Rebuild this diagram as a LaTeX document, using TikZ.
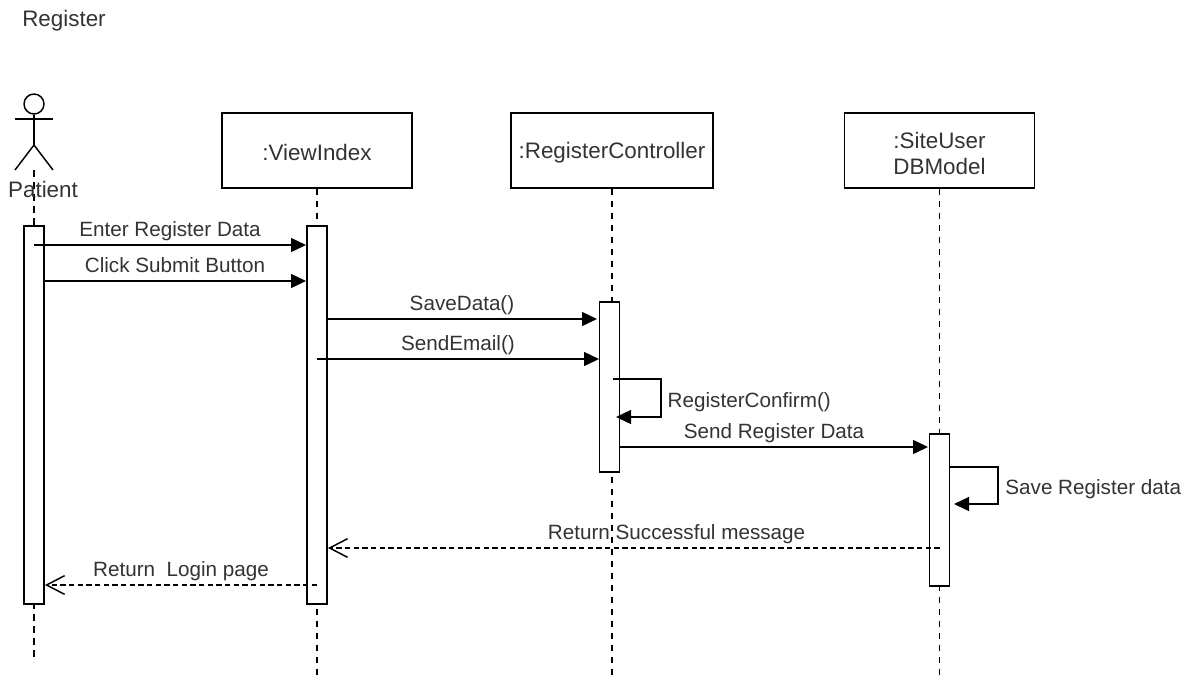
\documentclass[tikz,border=0pt]{standalone}
\usepackage{fontspec}
\setmainfont{Liberation Sans}
\usetikzlibrary{arrows.meta,positioning}

\begin{document}
\begin{tikzpicture}[x=0.75pt,y=-0.75pt,line width=1.1pt,>={Triangle[length=11.25pt,width=10.5pt]},text=black!80,font=\fontsize{15.5}{18}\selectfont]
  \tikzstyle{big}=[font=\fontsize{16.8}{19.5}\selectfont]
  \tikzstyle{object}=[big,draw=black,minimum width=142.5pt,minimum height=56pt,inner sep=0pt,align=center,text height=15.5pt]
  \tikzstyle{lifeline}=[dash pattern=on 5pt off 4pt]
  \tikzstyle{activation}=[draw=black,fill=white,minimum width=15pt,inner sep=0pt]
  \tikzstyle{msg}=[->]
  \tikzstyle{reply}=[-{Straight Barb[length=13.5pt,width=14pt]},dash pattern=on 4pt off 2.5pt]
  \tikzstyle{label}=[anchor=base,inner sep=0pt,yshift=6.5pt]
  \useasboundingbox (0,0) rectangle (1194,679);

  \node[big] (title) at (64,21) {Register};

  % actor
  \node[circle,draw=black,minimum size=15pt,inner sep=0pt] (head) at (34,104) {};
  \coordinate (armL) at (15,119);
  \coordinate (armR) at (53,119);
  \coordinate (hip) at (34,145);
  \coordinate (legL) at (15,170);
  \coordinate (legR) at (53,170);
  \coordinate (patientTop) at (34,170);
  \coordinate (patientEnd) at (34,662);
  \draw (head) -- (hip);
  \draw (armL) -- (armR);
  \draw (legL) -- (hip) -- (legR);
  \draw[lifeline] (patientTop) -- (patientEnd);
  \node[big] (patient) at (43,189) {Patient};

  \node[object] (view) at (317,150.5) {:ViewIndex};
  \node[object,minimum width=151.5pt] (register) at (612,150.5) {:RegisterController};
  \node[object,text height=36.5pt] (site) at (939.5,150.5) {:SiteUser\\DBModel};

  \coordinate (viewEnd) at (317,679);
  \coordinate (registerEnd) at (612,679);
  \coordinate (siteEnd) at (939.5,679);
  \draw[lifeline] (view) -- (viewEnd);
  \draw[lifeline] (register) -- (registerEnd);
  \draw[lifeline] (site) -- (siteEnd);

  \node[activation,minimum height=283.5pt] (actPatient) at (34,415) {};
  \node[activation,minimum height=283.5pt] (actView) at (317,415) {};
  \node[activation,minimum height=127.5pt] (actRegister) at (609.5,387) {};
  \node[activation,minimum height=114pt] (actSite) at (939.5,510) {};

  % message ends
  \coordinate (a1) at (34,245);
  \coordinate (b1) at (306,245);
  \coordinate (a2) at (44,281);
  \coordinate (b2) at (306,281);
  \coordinate (a3) at (327,319);
  \coordinate (b3) at (597,319);
  \coordinate (a4) at (317,359);
  \coordinate (b4) at (599,359);
  \coordinate (a5) at (613,379);
  \coordinate (c5) at (661,379);
  \coordinate (d5) at (661,417);
  \coordinate (b5) at (616,417);
  \coordinate (a6) at (620,447);
  \coordinate (b6) at (928,447);
  \coordinate (a7) at (950,467);
  \coordinate (c7) at (998,467);
  \coordinate (d7) at (998,504);
  \coordinate (b7) at (954,504);
  \coordinate (a8) at (939.5,548);
  \coordinate (b8) at (328,548);
  \coordinate (a9) at (317,585);
  \coordinate (b9) at (45,585);

  \path
  (a1) edge[msg] node[label] {Enter Register Data} (b1)
  (a2) edge[msg] node[label] {Click Submit Button} (b2)
  (a3) edge[msg] node[label] {SaveData()} (b3)
  (a4) edge[msg] node[label] {SendEmail()} (b4)
  (a6) edge[msg] node[label] {Send Register Data} (b6)
  (a8) edge[reply] node[label,pos=.43] {Return Successful message} (b8)
  (a9) edge[reply] node[label] {Return\ \ Login page} (b9);

  \draw[msg] (a5) -- (c5) -- (d5) -- (b5);
  \draw[msg] (a7) -- (c7) -- (d7) -- (b7);
  \node[right=4.5pt of d5,anchor=west,yshift=11pt,inner sep=0pt] (confirm) {RegisterConfirm()};
  \node[right=5pt of d7,anchor=west,yshift=11.5pt,inner sep=0pt] (savedata) {Save Register data};
\end{tikzpicture}
\end{document}
